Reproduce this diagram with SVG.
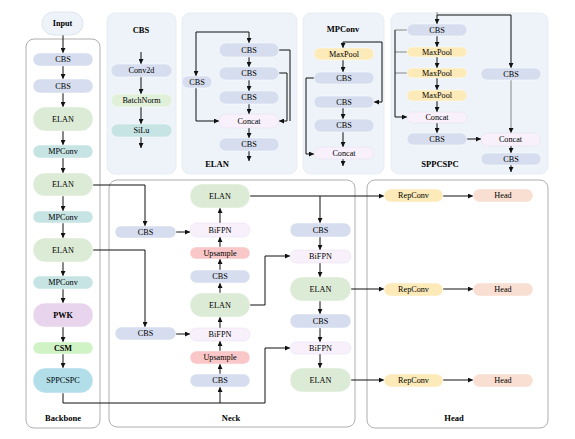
<svg xmlns="http://www.w3.org/2000/svg" width="575" height="439" viewBox="0 0 575 439">
<defs>
<marker id="ah" markerUnits="userSpaceOnUse" markerWidth="5" markerHeight="5" refX="5" refY="2.5" orient="auto"><path d="M0,0 L5,2.5 L0,5 z" fill="#111"/></marker>
<style>
text{font-family:"Liberation Serif","Times New Roman",serif;font-size:8.2px;fill:#000;text-anchor:middle;dominant-baseline:central}
.t{font-weight:bold;font-size:8.5px}
.b{font-weight:bold}
.panel{fill:#edf3f8;stroke:#e2eaf1;stroke-width:0.8}
.box{fill:#fff;stroke:#999;stroke-width:0.8}
.n{stroke:#fff;stroke-opacity:0.6;stroke-width:0.8}
.cbs{fill:#d6ddee}
.elan{fill:#dcebd6}
.mp{fill:#c6e4e4}
.pwk{fill:#e8d4ec}
.csm{fill:#d0f3c5}
.spp{fill:#b2deea}
.bn{fill:#e1f0d9}
.pool{fill:#fdeab9}
.cat{fill:#f8f1fb;stroke:#e6dcee}
.up{fill:#f9c7c7}
.rep{fill:#fdeab9}
.head{fill:#f9ded2}
.inp{fill:#eef3fa;stroke:#d8e0ea;stroke-width:0.8}
.c{fill:none;stroke:#111;stroke-width:1}
.g{fill:none;stroke:#888;stroke-width:1}
</style>
</defs>

<!-- containers -->
<g id="panels">
<rect class="panel" x="107" y="13" width="69" height="161" rx="8"/>
<rect class="panel" x="182" y="13" width="115" height="161" rx="8"/>
<rect class="panel" x="303" y="13" width="81" height="161" rx="8"/>
<rect class="panel" x="391" y="13" width="157" height="161" rx="8"/>
<rect class="box" x="26" y="39" width="74" height="389" rx="8"/>
<rect class="box" x="109" y="180" width="246" height="247" rx="8"/>
<rect class="box" x="367" y="180" width="181" height="248" rx="8"/>
<text class="t" x="141" y="30">CBS</text>
<text class="t" x="217" y="164">ELAN</text>
<text class="t" x="343" y="29">MPConv</text>
<text class="t" x="440" y="164">SPPCSPC</text>
<text class="t" x="63" y="418">Backbone</text>
<text class="t" x="231" y="418">Neck</text>
<text class="t" x="454" y="418">Head</text>
</g>

<!-- connectors -->
<g id="connectors">
<!-- backbone -->
<path class="c" marker-end="url(#ah)" d="M63,35 V53"/>
<path class="c" marker-end="url(#ah)" d="M63,66 V79"/>
<path class="c" marker-end="url(#ah)" d="M63,93 V107"/>
<path class="c" marker-end="url(#ah)" d="M63,131 V145"/>
<path class="c" marker-end="url(#ah)" d="M63,158 V173"/>
<path class="c" marker-end="url(#ah)" d="M63,196 V211"/>
<path class="c" marker-end="url(#ah)" d="M63,223 V238"/>
<path class="c" marker-end="url(#ah)" d="M63,262 V276"/>
<path class="c" marker-end="url(#ah)" d="M63,289 V303"/>
<path class="c" marker-end="url(#ah)" d="M63,327 V342"/>
<path class="c" marker-end="url(#ah)" d="M63,354 V368"/>
<!-- CBS panel -->
<path class="c" marker-end="url(#ah)" d="M141,52 V64"/>
<path class="c" marker-end="url(#ah)" d="M141,77 V94"/>
<path class="c" marker-end="url(#ah)" d="M141,107 V124"/>
<path class="c" marker-end="url(#ah)" d="M141,137 V148"/>
<!-- ELAN panel -->
<path class="c" marker-end="url(#ah)" d="M249,32 V43"/>
<path class="c" marker-end="url(#ah)" d="M249,32 H196 V76"/>
<path class="c" marker-end="url(#ah)" d="M196,88 V121 H219"/>
<path class="c" marker-end="url(#ah)" d="M249,57 V67"/>
<path class="c" marker-end="url(#ah)" d="M249,80 V91"/>
<path class="c" marker-end="url(#ah)" d="M249,104 V114"/>
<path class="c" marker-end="url(#ah)" d="M249,128 V138"/>
<path class="c" marker-end="url(#ah)" d="M249,151 V161"/>
<path class="c" d="M279,50 H290 V121"/>
<path class="c" marker-end="url(#ah)" d="M279,73 H287 V121 H279"/>
<!-- MPConv panel -->
<path class="c" marker-end="url(#ah)" d="M343,42 V48"/>
<path class="c" marker-end="url(#ah)" d="M343,42 H382 V102 H374"/>
<path class="c" marker-end="url(#ah)" d="M343,60 V72"/>
<path class="c" d="M314,78 H306 V154"/>
<path class="c" marker-end="url(#ah)" d="M306,154 H314"/>
<path class="c" marker-end="url(#ah)" d="M343,108 V119"/>
<path class="c" marker-end="url(#ah)" d="M343,132 V147"/>
<path class="c" marker-end="url(#ah)" d="M343,159 V166"/>
<!-- SPPCSPC panel -->
<path class="g" d="M437,12 V15"/>
<path class="c" marker-end="url(#ah)" d="M437,15 V24"/>
<path class="c" marker-end="url(#ah)" d="M437,15 H511 V68"/>
<path class="c" marker-end="url(#ah)" d="M437,36 V47"/>
<path class="c" marker-end="url(#ah)" d="M437,57 V68"/>
<path class="c" marker-end="url(#ah)" d="M437,78 V90"/>
<path class="c" marker-end="url(#ah)" d="M437,101 V112"/>
<path class="c" marker-end="url(#ah)" d="M437,123 V133"/>
<path class="g" d="M407,30 H395"/>
<path class="g" d="M407,52 H395"/>
<path class="g" d="M407,73 H395"/>
<path class="c" marker-end="url(#ah)" d="M395,30 V117 H407"/>
<path class="g" marker-end="url(#ah)" d="M511,80 V133"/>
<path class="c" marker-end="url(#ah)" d="M467,139 H481"/>
<path class="c" marker-end="url(#ah)" d="M511,146 V153"/>
<path class="c" marker-end="url(#ah)" d="M511,165 V172"/>
<!-- backbone to neck -->
<path class="c" marker-end="url(#ah)" d="M93,185 H145 V226"/>
<path class="c" marker-end="url(#ah)" d="M93,250 H145 V327"/>
<path class="c" d="M63,393 V403 H265 V348"/>
<path class="c" marker-end="url(#ah)" d="M265,348 H290"/>
<path class="c" marker-end="url(#ah)" d="M220,403 V387"/>
<!-- neck left column -->
<path class="c" marker-end="url(#ah)" d="M176,232 H190"/>
<path class="c" marker-end="url(#ah)" d="M176,334 H190"/>
<path class="c" marker-end="url(#ah)" d="M220,374 V364"/>
<path class="c" marker-end="url(#ah)" d="M220,351 V341"/>
<path class="c" marker-end="url(#ah)" d="M220,328 V317"/>
<path class="c" marker-end="url(#ah)" d="M220,293 V283"/>
<path class="c" marker-end="url(#ah)" d="M220,270 V259"/>
<path class="c" marker-end="url(#ah)" d="M220,247 V237"/>
<path class="c" marker-end="url(#ah)" d="M220,223 V208"/>
<!-- neck right column -->
<path class="c" marker-end="url(#ah)" d="M250,196 H384"/>
<path class="c" marker-end="url(#ah)" d="M320,196 V223"/>
<path class="c" marker-end="url(#ah)" d="M250,305 H265 V256 H290"/>
<path class="c" marker-end="url(#ah)" d="M320,237 V250"/>
<path class="c" marker-end="url(#ah)" d="M320,263 V277"/>
<path class="c" marker-end="url(#ah)" d="M320,301 V314"/>
<path class="c" marker-end="url(#ah)" d="M320,328 V342"/>
<path class="c" marker-end="url(#ah)" d="M320,354 V368"/>
<path class="c" marker-end="url(#ah)" d="M351,289 H384"/>
<path class="c" marker-end="url(#ah)" d="M351,380 H384"/>
<!-- head -->
<path class="c" marker-end="url(#ah)" d="M443,196 H473"/>
<path class="c" marker-end="url(#ah)" d="M443,289 H473"/>
<path class="c" marker-end="url(#ah)" d="M443,380 H473"/>
</g>

<!-- backbone nodes -->
<g id="input"><rect class="inp" x="42" y="12" width="41" height="23" rx="11.5"/><text class="b" x="62.5" y="23.5">Input</text></g>
<g id="bb-cbs1"><rect class="n cbs" x="33" y="53" width="60" height="13" rx="6.5"/><text x="63" y="59.5">CBS</text></g>
<g id="bb-cbs2"><rect class="n cbs" x="33" y="79" width="60" height="14" rx="7"/><text x="63" y="86">CBS</text></g>
<g id="bb-elan1"><rect class="n elan" x="33" y="107" width="60" height="24" rx="12"/><text x="63" y="119">ELAN</text></g>
<g id="bb-mp1"><rect class="n mp" x="33" y="145" width="60" height="13" rx="6.5"/><text x="63" y="151.5">MPConv</text></g>
<g id="bb-elan2"><rect class="n elan" x="33" y="173" width="60" height="23" rx="11.5"/><text x="63" y="184.5">ELAN</text></g>
<g id="bb-mp2"><rect class="n mp" x="33" y="211" width="60" height="12" rx="6"/><text x="63" y="217">MPConv</text></g>
<g id="bb-elan3"><rect class="n elan" x="33" y="238" width="60" height="24" rx="12"/><text x="63" y="250">ELAN</text></g>
<g id="bb-mp3"><rect class="n mp" x="33" y="276" width="60" height="13" rx="6.5"/><text x="63" y="282.5">MPConv</text></g>
<g id="bb-pwk"><rect class="n pwk" x="33" y="303" width="60" height="24" rx="12"/><text class="b" x="63" y="315">PWK</text></g>
<g id="bb-csm"><rect class="n csm" x="33" y="342" width="60" height="12" rx="6"/><text class="b" x="63" y="348">CSM</text></g>
<g id="bb-spp"><rect class="n spp" x="33" y="368" width="60" height="25" rx="12.5"/><text x="63" y="380.5">SPPCSPC</text></g>

<!-- CBS panel nodes -->
<g id="cbs-conv"><rect class="n cbs" x="111" y="64" width="61" height="13" rx="6.5"/><text x="141.5" y="70.5">Conv2d</text></g>
<g id="cbs-bn"><rect class="n bn" x="111" y="94" width="61" height="13" rx="6.5"/><text x="141.5" y="100.5">BatchNorm</text></g>
<g id="cbs-silu"><rect class="n mp" x="111" y="124" width="61" height="13" rx="6.5"/><text x="141.5" y="130.5">SiLu</text></g>

<!-- ELAN panel nodes -->
<g id="elan-cbs1"><rect class="n cbs" x="219" y="43" width="60" height="14" rx="7"/><text x="249" y="50">CBS</text></g>
<g id="elan-cbs2"><rect class="n cbs" x="219" y="67" width="60" height="13" rx="6.5"/><text x="249" y="73.5">CBS</text></g>
<g id="elan-cbs3"><rect class="n cbs" x="219" y="91" width="60" height="13" rx="6.5"/><text x="249" y="97.5">CBS</text></g>
<g id="elan-cbsl"><rect class="n cbs" x="182" y="76" width="30" height="12" rx="6"/><text x="197" y="82">CBS</text></g>
<g id="elan-cat"><rect class="n cat" x="219" y="114" width="60" height="14" rx="7"/><text x="249" y="121">Concat</text></g>
<g id="elan-cbs4"><rect class="n cbs" x="219" y="138" width="60" height="13" rx="6.5"/><text x="249" y="144.5">CBS</text></g>

<!-- MPConv panel nodes -->
<g id="mp-pool"><rect class="n pool" x="314" y="48" width="60" height="12" rx="6"/><text x="344" y="54">MaxPool</text></g>
<g id="mp-cbs1"><rect class="n cbs" x="314" y="72" width="60" height="12" rx="6"/><text x="344" y="78">CBS</text></g>
<g id="mp-cbs2"><rect class="n cbs" x="314" y="96" width="60" height="12" rx="6"/><text x="344" y="102">CBS</text></g>
<g id="mp-cbs3"><rect class="n cbs" x="314" y="119" width="60" height="13" rx="6.5"/><text x="344" y="125.5">CBS</text></g>
<g id="mp-cat"><rect class="n cat" x="314" y="147" width="60" height="12" rx="6"/><text x="344" y="153">Concat</text></g>

<!-- SPPCSPC panel nodes -->
<g id="spp-cbs1"><rect class="n cbs" x="407" y="24" width="60" height="12" rx="6"/><text x="437" y="30">CBS</text></g>
<g id="spp-pool1"><rect class="n pool" x="407" y="47" width="60" height="10" rx="5"/><text x="437" y="52">MaxPool</text></g>
<g id="spp-pool2"><rect class="n pool" x="407" y="68" width="60" height="10" rx="5"/><text x="437" y="73">MaxPool</text></g>
<g id="spp-pool3"><rect class="n pool" x="407" y="90" width="60" height="11" rx="5.5"/><text x="437" y="95.5">MaxPool</text></g>
<g id="spp-cat1"><rect class="n cat" x="407" y="112" width="60" height="11" rx="5.5"/><text x="437" y="117.5">Concat</text></g>
<g id="spp-cbs2"><rect class="n cbs" x="407" y="133" width="60" height="12" rx="6"/><text x="437" y="139">CBS</text></g>
<g id="spp-cbsr"><rect class="n cbs" x="481" y="68" width="60" height="12" rx="6"/><text x="511" y="74">CBS</text></g>
<g id="spp-cat2"><rect class="n cat" x="481" y="133" width="59" height="13" rx="6.5"/><text x="510.5" y="139.5">Concat</text></g>
<g id="spp-cbs3"><rect class="n cbs" x="481" y="153" width="60" height="12" rx="6"/><text x="511" y="159">CBS</text></g>

<!-- neck nodes -->
<g id="nk-cbsl1"><rect class="n cbs" x="115" y="226" width="61" height="12" rx="6"/><text x="145.5" y="232">CBS</text></g>
<g id="nk-cbsl2"><rect class="n cbs" x="115" y="327" width="61" height="13" rx="6.5"/><text x="145.5" y="333.5">CBS</text></g>
<g id="nk-elan1"><rect class="n elan" x="190" y="184" width="60" height="24" rx="12"/><text x="220" y="196">ELAN</text></g>
<g id="nk-bifpn1"><rect class="n cat" x="190" y="223" width="60" height="14" rx="7"/><text x="220" y="230">BiFPN</text></g>
<g id="nk-up1"><rect class="n up" x="190" y="247" width="60" height="12" rx="6"/><text x="220" y="253">Upsample</text></g>
<g id="nk-cbs1"><rect class="n cbs" x="190" y="270" width="60" height="13" rx="6.5"/><text x="220" y="276.5">CBS</text></g>
<g id="nk-elan2"><rect class="n elan" x="190" y="293" width="60" height="24" rx="12"/><text x="220" y="305">ELAN</text></g>
<g id="nk-bifpn2"><rect class="n cat" x="190" y="328" width="60" height="13" rx="6.5"/><text x="220" y="334.5">BiFPN</text></g>
<g id="nk-up2"><rect class="n up" x="190" y="351" width="60" height="13" rx="6.5"/><text x="220" y="357.5">Upsample</text></g>
<g id="nk-cbs2"><rect class="n cbs" x="190" y="374" width="60" height="13" rx="6.5"/><text x="220" y="380.5">CBS</text></g>
<g id="nk-cbsr1"><rect class="n cbs" x="290" y="223" width="61" height="14" rx="7"/><text x="320.5" y="230">CBS</text></g>
<g id="nk-bifpnr1"><rect class="n cat" x="290" y="250" width="61" height="13" rx="6.5"/><text x="320.5" y="256.5">BiFPN</text></g>
<g id="nk-elanr1"><rect class="n elan" x="290" y="277" width="61" height="24" rx="12"/><text x="320.5" y="289">ELAN</text></g>
<g id="nk-cbsr2"><rect class="n cbs" x="290" y="314" width="61" height="14" rx="7"/><text x="320.5" y="321">CBS</text></g>
<g id="nk-bifpnr2"><rect class="n cat" x="290" y="342" width="61" height="12" rx="6"/><text x="320.5" y="348">BiFPN</text></g>
<g id="nk-elanr2"><rect class="n elan" x="290" y="368" width="61" height="24" rx="12"/><text x="320.5" y="380">ELAN</text></g>

<!-- head nodes -->
<g id="hd-rep1"><rect class="n rep" x="384" y="189" width="59" height="13" rx="6.5"/><text x="413.5" y="195.5">RepConv</text></g>
<g id="hd-head1"><rect class="n head" x="473" y="189" width="60" height="13" rx="6.5"/><text x="503" y="195.5">Head</text></g>
<g id="hd-rep2"><rect class="n rep" x="384" y="283" width="59" height="13" rx="6.5"/><text x="413.5" y="289.5">RepConv</text></g>
<g id="hd-head2"><rect class="n head" x="473" y="283" width="60" height="13" rx="6.5"/><text x="503" y="289.5">Head</text></g>
<g id="hd-rep3"><rect class="n rep" x="384" y="374" width="59" height="13" rx="6.5"/><text x="413.5" y="380.5">RepConv</text></g>
<g id="hd-head3"><rect class="n head" x="473" y="374" width="60" height="13" rx="6.5"/><text x="503" y="380.5">Head</text></g>
</svg>
